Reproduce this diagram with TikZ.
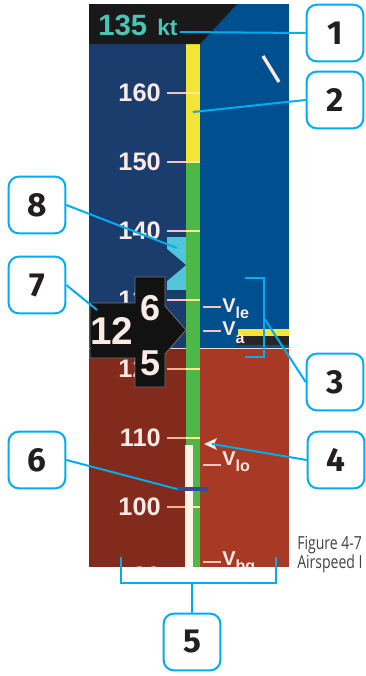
\documentclass[tikz,border=0pt]{standalone}
\usepackage{fontspec}
\setmainfont{Liberation Sans}
\newfontfamily\calloutfont{Fira Sans}
\newfontfamily\captionfont{Open Sans}
\definecolor{navy}{HTML}{1B3D6D}
\definecolor{skyblue}{HTML}{00508F}
\definecolor{darkred}{HTML}{822A1B}
\definecolor{brickred}{HTML}{A83A25}
\definecolor{tapegreen}{HTML}{4DB748}
\definecolor{tapeyellow}{HTML}{F3E437}
\definecolor{tickpink}{HTML}{F5C3C0}
\definecolor{tickorange}{HTML}{F3B391}
\definecolor{tickyellow}{HTML}{F8EE8C}
\definecolor{labwhite}{HTML}{FBEAE6}
\definecolor{aqua}{HTML}{52C6D8}
\definecolor{readout}{HTML}{4DC3B5}
\definecolor{callcyan}{HTML}{00AEEF}
\definecolor{ink}{HTML}{231F20}
\definecolor{trendblue}{HTML}{2F4F8E}

\begin{document}
\begin{tikzpicture}[x=0.75pt,y=-0.75pt,
  numbox/.style={draw=callcyan,line width=1.5pt,fill=white,rounded corners=7.5pt,
    minimum width=42.5pt,minimum height=42.5pt,text=ink,
    font=\calloutfont\bfseries\fontsize{25}{25}\selectfont},
  lead/.style={callcyan,line width=1.5pt},
  scalelab/.style={anchor=east,inner sep=0pt,text=labwhite,font=\bfseries\fontsize{19}{19}\selectfont},
  vlab/.style={anchor=base west,inner sep=0pt,text=labwhite,font=\bfseries\fontsize{15}{15}\selectfont},
  drum/.style={inner sep=0pt,text=labwhite,font=\bfseries\fontsize{27}{27}\selectfont}]
\path[use as bounding box] (0,0) rectangle (365,676);
\begin{scope}
\clip (89,4) rectangle (289,567);
\fill[navy] (89,4) rectangle (186,348);
\fill[skyblue] (186,4) rectangle (289,348);
\fill[darkred] (89,348) rectangle (186,567);
\fill[brickred] (186,348) rectangle (289,567);
\draw[tickpink!70,line width=0.6pt] (89,348)--(289,348);
\fill[tapeyellow] (186,44) rectangle (200,163);
\fill[tapegreen] (186,163) rectangle (200,567);
\fill[black!85] (238,336) rectangle (289,345);
\fill[tapeyellow] (238,329) rectangle (289,336);
\draw[labwhite,line width=2.5pt] (263,56)--(279,82);
\foreach \v/\yy/\tc in {160/93/tickpink,150/162/tickpink,140/231/tickpink,130/300/tickpink,
  120/369/tickorange,110/438/tickorange,100/507/tickorange,90/576/tickorange}{
  \draw[\tc,line width=2.2pt] (167,\yy)--(186,\yy);
  \draw[tickyellow,line width=2.2pt] (186,\yy)--(200,\yy);
  \node[scalelab] (l\v) at (161,\yy) {\v};}
\fill[white!92!orange] (185,445) rectangle (193,567);
\fill[aqua] (167,237)--(186,237)--(186,290)--(167,290)--cycle;
\fill[navy] (167,249)--(186,265)--(167,281)--cycle;
\fill[black!93] (135,277)--(165,277)--(165,306)--(186,330)--(165,354)--(165,387)--(135,387)
  --(135,358)--(90,358)--(90,303)--(135,303)--cycle;
\draw[black!55,line width=0.6pt] (135,277)--(165,277)--(165,306)--(186,330)--(165,354)--(165,387)
  --(135,387)--(135,358)--(90,358)--(90,303)--(135,303)--cycle;
\node[drum,font=\bfseries\fontsize{29}{29}\selectfont] (d12) at (112,331) {12};
\node[drum] (d6) at (151,308) {6};
\node[drum] (d5) at (151,363) {5};
\foreach \yy in {307,331,465,562}{\draw[tickpink,line width=2pt] (203,\yy)--(221,\yy);}
\node[vlab] (vle) at (222,312) {V\raisebox{-4.5pt}{\fontsize{12}{12}\selectfont le}};
\node[vlab] (va) at (222,335) {V\raisebox{-6pt}{\fontsize{12}{12}\selectfont a}};
\node[vlab] (vlo) at (222,465) {V\raisebox{-5pt}{\fontsize{12}{12}\selectfont lo}};
\node[vlab] (vbg) at (222,565) {V\raisebox{-5pt}{\fontsize{12}{12}\selectfont bg}};
\fill[labwhite] (204,444)--(217,438)--(214,444)--(217,450)--cycle;
\draw[trendblue,line width=2.5pt] (177,489)--(208,489);
\fill[black!90] (89,4)--(237,4)--(200,44)--(89,44)--cycle;
\node[anchor=base west,inner sep=0pt,text=readout,font=\bfseries\fontsize{22}{22}\selectfont] (spd) at (98,35) {135};
\node[anchor=base west,inner sep=0pt,text=readout,font=\bfseries\fontsize{17}{17}\selectfont] (kt) at (157,35) {kt};
\end{scope}
\begin{scope}
\clip (290,500) rectangle (365,600);
\node[anchor=base west,inner sep=0pt,text=ink!85,font=\captionfont\fontsize{13.5}{13.5}\selectfont] (fig) at (297,549) {\scalebox{0.78}[1]{Figure 4-7}};
\node[anchor=base west,inner sep=0pt,text=ink!85,font=\captionfont\fontsize{13.5}{13.5}\selectfont] (figt) at (297,568) {\scalebox{0.78}[1]{Airspeed I}};
\end{scope}
\node[numbox] (c1) at (335,33) {1};
\node[numbox] (c2) at (335,100) {2};
\node[numbox] (c3) at (335,382) {3};
\node[numbox] (c4) at (336,460) {4};
\node[numbox] (c5) at (192,642) {5};
\node[numbox] (c6) at (37,460) {6};
\node[numbox] (c7) at (37,285) {7};
\node[numbox] (c8) at (37,205) {8};
\coordinate (p1) at (180,32);
\coordinate (p2) at (193,112);
\coordinate (p3) at (264,318);
\coordinate (p4) at (212,444);
\coordinate (p5) at (192,583);
\coordinate (p6) at (177,489);
\coordinate (p7) at (97,310);
\coordinate (p8) at (177,248);
\draw[lead] (p1)--(c1.west);
\draw[lead] (p2)--(c2.west);
\draw[lead] (245,278)--(264,278)--(264,357)--(245,357);
\draw[lead] (p3)--(c3.west);
\draw[lead] (p4)--(c4.west);
\draw[lead] (121,557)--(121,583)--(276,583)--(276,557);
\draw[lead] (p5)--(c5.north);
\draw[lead] (c6.east)--(p6);
\draw[lead] (c7.east)--(p7);
\draw[lead] (c8.east)--(p8);
\end{tikzpicture}
\end{document}
